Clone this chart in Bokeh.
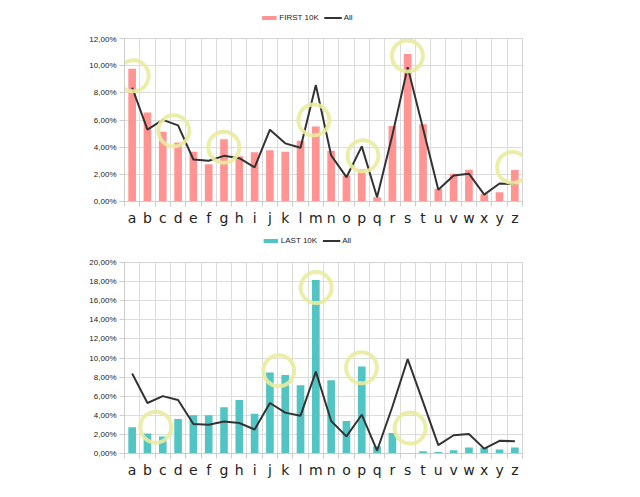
from bokeh.plotting import figure
from bokeh.layouts import column
from bokeh.models import FixedTicker, Legend, LegendItem
from bokeh.embed import file_html
from bokeh.resources import INLINE

letters = list("abcdefghijklmnopqrstuvwxyz")

first_10k = [9.78, 6.55, 5.14, 4.35, 3.67, 2.75, 4.59, 3.33, 3.62, 3.77, 3.67, 4.47, 5.53,
             3.74, 1.91, 2.39, 0.31, 5.56, 10.85, 5.68, 0.94, 2.05, 2.34, 0.53, 0.68, 2.32]
last_10k = [2.76, 2.10, 1.79, 3.62, 4.00, 4.00, 4.83, 5.59, 4.17, 8.48, 8.21, 7.14, 18.17,
            7.66, 3.41, 9.10, 0.76, 2.14, 0.0, 0.24, 0.17, 0.34, 0.62, 0.62, 0.41, 0.62]
all_letters = [8.38, 5.29, 6.01, 5.60, 3.09, 3.00, 3.36, 3.19, 2.51, 5.29, 4.28, 3.96, 8.57,
               3.40, 1.79, 4.06, 0.31, 4.90, 9.88, 5.40, 0.87, 1.91, 2.05, 0.51, 1.33, 1.28]

# highlight circles (category position, value)
top_circle_x = [0.57, 3.22, 6.49, 12.37, 15.58, 18.48, 25.36]
top_circle_y = [9.25, 5.2, 4.0, 6.0, 3.36, 10.72, 2.51]
bot_circle_x = [2.04, 10.08, 12.52, 15.48, 18.66]
bot_circle_y = [2.76, 8.66, 17.37, 8.97, 2.66]

top_ticks = [0, 2, 4, 6, 8, 10, 12]
bot_ticks = [0, 2, 4, 6, 8, 10, 12, 14, 16, 18, 20]

LINE_COLOR = "#333333"
CIRCLE_COLOR = "#e9ec9e"
XS = [i + 0.5 for i in range(len(letters))]


def pct(v):
    return "%d,00%%" % v


def make_legend(values, label, color, height):
    # legend strip: same series drawn outside the visible y window, only the legend shows
    p = figure(width=585, height=height, x_range=(0, 26), y_range=(100, 101),
               x_axis_type=None, y_axis_type=None,
               output_backend="svg", toolbar_location=None, min_border=0)
    p.outline_line_color = None
    p.xgrid.visible = False
    p.ygrid.visible = False
    bars = p.vbar(x=XS, top=values, width=0.5, color=color, line_color=None)
    line = p.line(x=XS, y=all_letters, line_color=LINE_COLOR, line_width=2)
    legend = Legend(items=[LegendItem(label=label, renderers=[bars]),
                           LegendItem(label="All", renderers=[line])],
                    orientation="horizontal", location="center",
                    label_text_font="Liberation Sans", label_text_font_size="8px",
                    label_text_color="#222222", glyph_width=18, glyph_height=5,
                    label_height=10, label_standoff=2, spacing=5, padding=0, margin=0,
                    border_line_color=None, background_fill_alpha=0)
    p.add_layout(legend)
    return p


def make_chart(values, color, ymax, yticks, cx, cy, height, top_border):
    p = figure(width=608, height=height, x_range=(0, 26), y_range=(0, ymax),
               output_backend="svg", toolbar_location=None,
               min_border_left=124, min_border_right=86, min_border_bottom=24,
               min_border_top=top_border)
    p.outline_line_color = "#d4d4d4"
    p.background_fill_color = "white"
    p.border_fill_color = "white"

    p.vbar(x=XS, top=values, width=0.5, color=color, line_color=None)
    p.line(x=XS, y=all_letters, line_color=LINE_COLOR, line_width=2)
    p.scatter(x=cx, y=cy, size=31, marker="circle", fill_color=None,
              line_color=CIRCLE_COLOR, line_width=4, line_alpha=0.9)

    # x axis
    p.xaxis.ticker = FixedTicker(ticks=XS, minor_ticks=list(range(27)))
    p.xaxis.major_label_overrides = {x: l for x, l in zip(XS, letters)}
    p.xaxis.major_tick_line_color = None
    p.xaxis.minor_tick_line_color = "#cccccc"
    p.xaxis.minor_tick_out = 5
    p.xaxis.minor_tick_in = 0
    p.xaxis.axis_line_color = "#cccccc"
    p.xaxis.major_label_text_font = "DejaVu Sans"
    p.xaxis.major_label_text_font_size = "14px"
    p.xaxis.major_label_text_color = "#222222"
    p.xaxis.major_label_standoff = 2
    p.xgrid.ticker = FixedTicker(ticks=list(range(27)))
    p.xgrid.grid_line_color = "#dcdcdc"

    # y axis
    p.yaxis.ticker = FixedTicker(ticks=yticks)
    p.yaxis.major_label_overrides = {t: pct(t) for t in yticks}
    p.yaxis.minor_tick_line_color = None
    p.yaxis.major_tick_line_color = "#cccccc"
    p.yaxis.major_tick_out = 5
    p.yaxis.major_tick_in = 0
    p.yaxis.axis_line_color = "#cccccc"
    p.yaxis.major_label_text_font = "Liberation Sans"
    p.yaxis.major_label_text_font_size = "8px"
    p.yaxis.major_label_text_color = "#222222"
    p.yaxis.major_label_standoff = 3
    p.ygrid.grid_line_color = "#dcdcdc"
    return p


leg_top = make_legend(first_10k, "FIRST 10K", "#ff9492", 34)
top = make_chart(first_10k, "#ff9492", 12, top_ticks,
                 top_circle_x, top_circle_y, 194, 4)
leg_bot = make_legend(last_10k, "LAST 10K", "#52c4c4", 24)
bottom = make_chart(last_10k, "#52c4c4", 20, bot_ticks,
                    bot_circle_x, bot_circle_y, 228, 10)

layout = column(leg_top, top, leg_bot, bottom, spacing=0)
open("out.html", "w").write(file_html(layout, INLINE))
